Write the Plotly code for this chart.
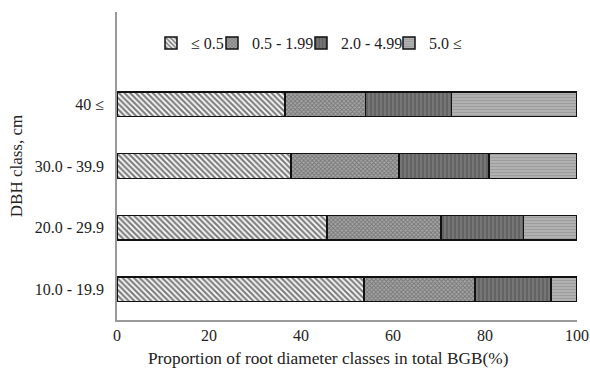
import plotly.graph_objects as go

# DBH classes (bottom to top) and root diameter classes (cm)
dbh_classes = ["10.0 - 19.9", "20.0 - 29.9", "30.0 - 39.9", "40 ≤"]
root_classes = ["≤ 0.5", "0.5 - 1.99", "2.0 - 4.99", "5.0 ≤"]

# Share of each root diameter class in total BGB (%)
share_fine = [53.7, 45.7, 37.8, 36.5]
share_small = [24.1, 24.7, 23.5, 17.5]
share_medium = [16.5, 18.0, 19.6, 18.7]
share_coarse = [5.7, 11.6, 19.1, 27.3]

x_ticks = [0, 20, 40, 60, 80, 100]

series = [share_fine, share_small, share_medium, share_coarse]

# hatch styles per root class
patterns = [
    dict(shape="\\", size=4, solidity=0.55, fgcolor="#000000", bgcolor="#ffffff"),
    dict(shape="x", size=3, solidity=0.5, fgcolor="#454545", bgcolor="#a6a6a6"),
    dict(shape="|", size=4, solidity=0.45, fgcolor="#4a4a4a", bgcolor="#767676"),
    dict(shape="-", size=3, solidity=0.4, fgcolor="#888888", bgcolor="#b3b3b3"),
]

# legend text start (px from left of the page)
legend_text_px = [189, 250, 339, 427]

FONT = "Liberation Serif"
W, H = 590, 374
M_L, M_R, M_T, M_B = 117, 13, 12, 54
PW, PH = W - M_L - M_R, H - M_T - M_B

fig = go.Figure()
legend_ids = ["legend", "legend2", "legend3", "legend4"]
for name, vals, pat, lid in zip(root_classes, series, patterns, legend_ids):
    fig.add_trace(go.Bar(
        y=dbh_classes, x=vals, name=name, orientation="h",
        width=0.4,
        marker=dict(color=pat["bgcolor"], pattern=pat,
                    line=dict(color="#111111", width=1.5)),
        legend=lid, showlegend=True,
    ))

layout_legends = {}
for lid, tx in zip(legend_ids, legend_text_px):
    layout_legends[lid] = dict(
        x=(tx - 38 - M_L) / PW, xref="paper", xanchor="left",
        y=(H - M_B - 43) / PH, yref="paper", yanchor="middle",
        orientation="h", bgcolor="rgba(0,0,0,0)",
        font=dict(family=FONT, size=16, color="#222222"),
        itemwidth=30, borderwidth=0,
    )

fig.update_layout(
    width=W, height=H,
    margin=dict(l=M_L, r=M_R, t=M_T, b=M_B, autoexpand=False),
    paper_bgcolor="white", plot_bgcolor="white",
    barmode="stack", showlegend=True,
    font=dict(family=FONT, size=16, color="#222222"),
    **layout_legends,
    xaxis=dict(
        range=[0, 100], tickvals=x_ticks, showgrid=False, zeroline=False,
        showline=True, linecolor="#9a9a9a", linewidth=1.5, ticks="",
        tickfont=dict(family=FONT, size=16, color="#222222"),
    ),
    yaxis=dict(
        type="category", categoryorder="array", categoryarray=dbh_classes,
        range=[-0.5, 4.5], showgrid=False, zeroline=False,
        showline=True, linecolor="#9a9a9a", linewidth=1.5, ticks="",
        ticklabelstandoff=8,
        tickfont=dict(family=FONT, size=16, color="#222222"),
        title=dict(text="DBH class, cm",
                   font=dict(family=FONT, size=17, color="#222222"), standoff=8),
    ),
    annotations=[dict(
        text="Proportion of root diameter classes in total BGB(%)",
        xref="paper", yref="paper", x=(328 - M_L) / PW, y=-(358 - (H - M_B)) / PH,
        xanchor="center", yanchor="middle", showarrow=False,
        font=dict(family=FONT, size=17.3, color="#222222"),
    )],
)

fig.write_html("out.html")
